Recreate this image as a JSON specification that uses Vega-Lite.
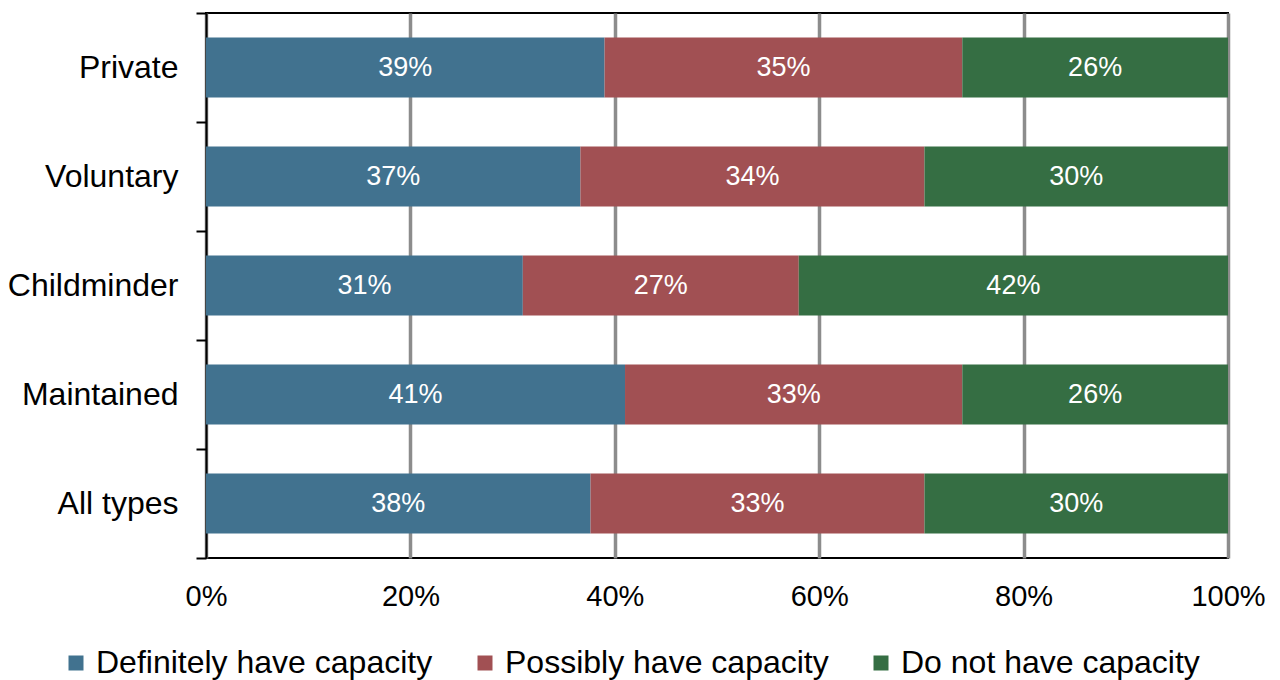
{
  "$schema": "https://vega.github.io/schema/vega-lite/v6.json",
  "width": 1022,
  "height": 545,
  "autosize": {"type": "none"},
  "padding": {"left": 206, "top": 13, "right": 52, "bottom": 122},
  "background": "white",
  "config": {
    "font": "Liberation Sans",
    "view": {"stroke": "black", "strokeWidth": 2}
  },
  "data": {
    "values": [
      {"type": "Private", "response": "Definitely have capacity", "order": 1, "value": 39},
      {"type": "Private", "response": "Possibly have capacity", "order": 2, "value": 35},
      {"type": "Private", "response": "Do not have capacity", "order": 3, "value": 26},
      {"type": "Voluntary", "response": "Definitely have capacity", "order": 1, "value": 37},
      {"type": "Voluntary", "response": "Possibly have capacity", "order": 2, "value": 34},
      {"type": "Voluntary", "response": "Do not have capacity", "order": 3, "value": 30},
      {"type": "Childminder", "response": "Definitely have capacity", "order": 1, "value": 31},
      {"type": "Childminder", "response": "Possibly have capacity", "order": 2, "value": 27},
      {"type": "Childminder", "response": "Do not have capacity", "order": 3, "value": 42},
      {"type": "Maintained", "response": "Definitely have capacity", "order": 1, "value": 41},
      {"type": "Maintained", "response": "Possibly have capacity", "order": 2, "value": 33},
      {"type": "Maintained", "response": "Do not have capacity", "order": 3, "value": 26},
      {"type": "All types", "response": "Definitely have capacity", "order": 1, "value": 38},
      {"type": "All types", "response": "Possibly have capacity", "order": 2, "value": 33},
      {"type": "All types", "response": "Do not have capacity", "order": 3, "value": 30}
    ]
  },
  "transform": [
    {"stack": "value", "groupby": ["type"], "sort": [{"field": "order"}], "offset": "normalize", "as": ["v0", "v1"]},
    {"calculate": "(datum.v0 + datum.v1) / 2", "as": "mid"},
    {"calculate": "datum.value + '%'", "as": "label"}
  ],
  "encoding": {
    "y": {
      "field": "type",
      "type": "nominal",
      "sort": ["Private", "Voluntary", "Childminder", "Maintained", "All types"],
      "scale": {"paddingInner": 0, "paddingOuter": 0},
      "axis": {
        "title": null,
        "tickBand": "extent",
        "tickSize": 10,
        "tickWidth": 2,
        "tickColor": "black",
        "domainColor": "black",
        "domainWidth": 2,
        "labelFontSize": 32,
        "labelColor": "black",
        "labelPadding": 18,
        "grid": false
      }
    }
  },
  "layer": [
    {
      "mark": {"type": "bar", "height": {"band": 0.55}},
      "encoding": {
        "x": {
          "field": "v0",
          "type": "quantitative",
          "scale": {"domain": [0, 1], "nice": false},
          "axis": {
            "title": null,
            "format": ".0%",
            "values": [0, 0.2, 0.4, 0.6, 0.8, 1],
            "grid": true,
            "gridColor": "#8c8c8c",
            "gridWidth": 3.5,
            "gridOpacity": 1,
            "ticks": false,
            "tickSize": 0,
            "domain": false,
            "labelFontSize": 29,
            "labelColor": "black",
            "labelPadding": 24,
            "labelFlush": false
          }
        },
        "x2": {"field": "v1"},
        "color": {
          "field": "response",
          "type": "nominal",
          "sort": ["Definitely have capacity", "Possibly have capacity", "Do not have capacity"],
          "scale": {
            "domain": ["Definitely have capacity", "Possibly have capacity", "Do not have capacity"],
            "range": ["#41728f", "#a15053", "#356e43"]
          },
          "legend": {
            "title": null,
            "orient": "none",
            "direction": "horizontal",
            "legendX": -146,
            "legendY": 634,
            "symbolType": "square",
            "symbolSize": 225,
            "symbolStrokeWidth": 0,
            "symbolOpacity": 1,
            "labelFontSize": 32,
            "labelColor": "black",
            "labelOffset": 4,
            "columnPadding": 36,
            "labelLimit": 500
          }
        }
      }
    },
    {
      "mark": {"type": "text", "color": "white", "fontSize": 27, "baseline": "middle", "align": "center"},
      "encoding": {
        "x": {"field": "mid", "type": "quantitative"},
        "text": {"field": "label"}
      }
    }
  ]
}
